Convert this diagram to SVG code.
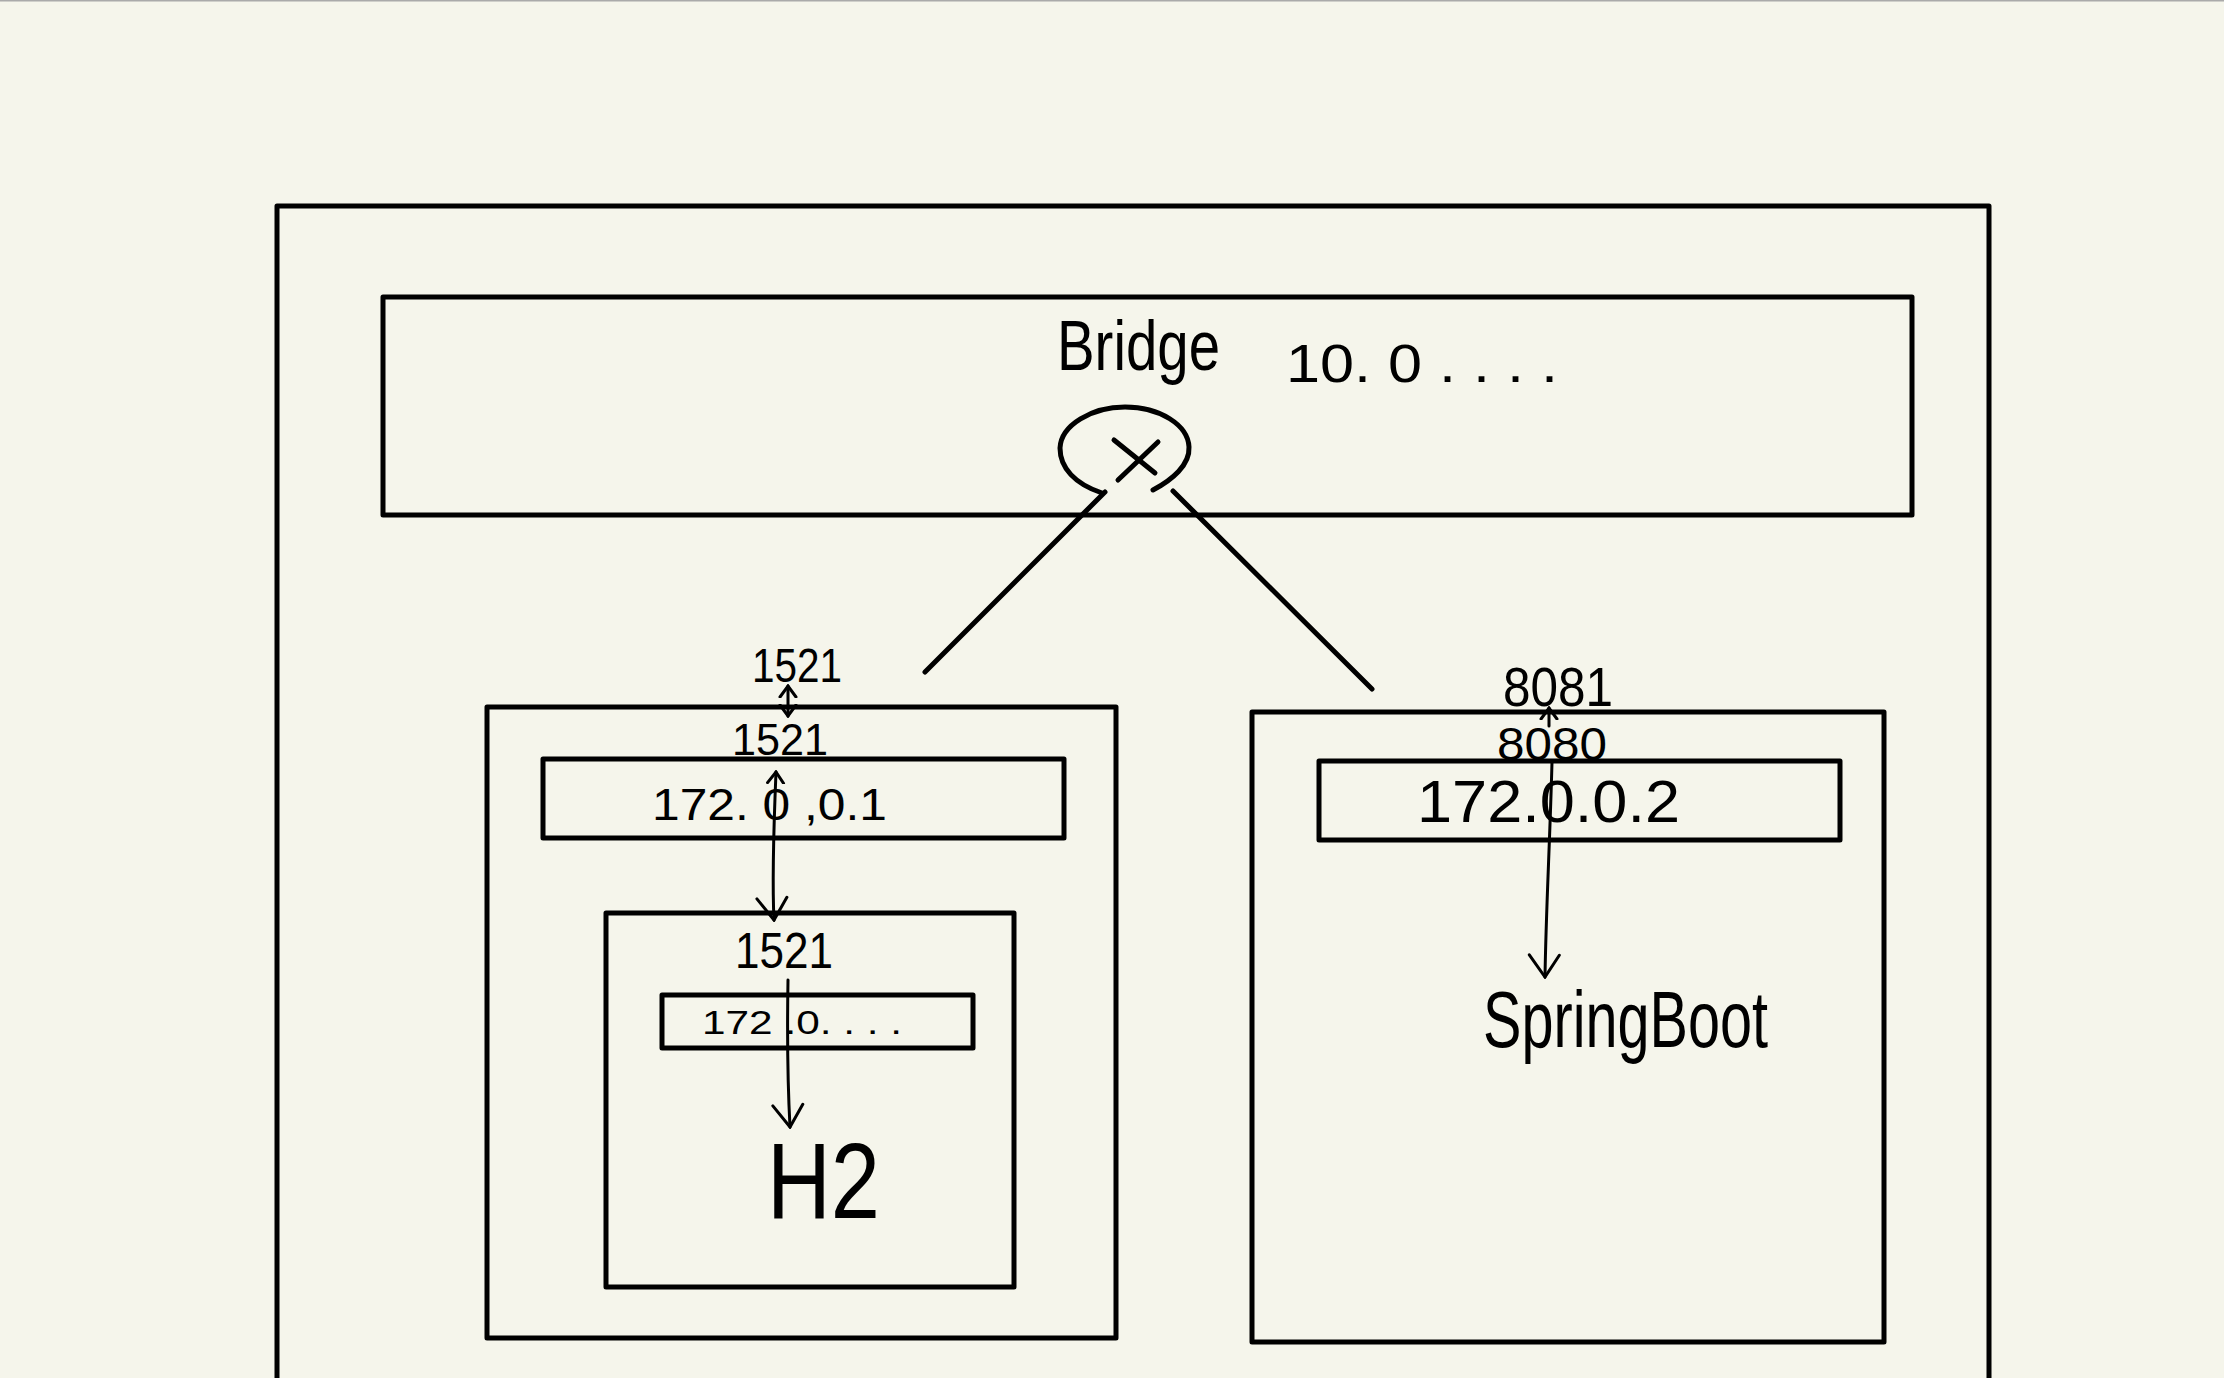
<svg xmlns="http://www.w3.org/2000/svg" width="2224" height="1378" viewBox="0 0 2224 1378">
<style>
.box{fill:none;stroke:#000;stroke-width:5;stroke-linejoin:round}
.conn{fill:none;stroke:#000;stroke-width:5;stroke-linecap:round}
.arr{fill:none;stroke:#000;stroke-width:3;stroke-linecap:round}
.t{font-family:"Liberation Sans",Arial,sans-serif;fill:#000}
</style>
<defs>
<marker id="v" viewBox="-12 -10 14 20" markerWidth="14" markerHeight="20" refX="0" refY="0" orient="auto-start-reverse" markerUnits="userSpaceOnUse">
<path d="M-11,-8 L0,0 L-11,8" fill="none" stroke="#000" stroke-width="3" stroke-linecap="round"/>
</marker>
<marker id="vl" viewBox="-24 -18 26 36" markerWidth="26" markerHeight="36" refX="0" refY="0" orient="auto-start-reverse" markerUnits="userSpaceOnUse">
<path d="M-22,-14 L0,0 L-22,16" fill="none" stroke="#000" stroke-width="3" stroke-linecap="round"/>
</marker>
</defs>
<rect x="0" y="0" width="2224" height="1378" fill="#f5f5eb"/>
<line x1="0" y1="0.5" x2="2224" y2="0.5" stroke="#aaa" stroke-width="2"/>

<g id="host">
<rect class="box" x="277" y="206" width="1712" height="1200"/>
</g>

<g id="bridge">
<rect class="box" x="383" y="297" width="1529" height="218"/>
<text class="t" x="1057" y="370" font-size="70" textLength="163" lengthAdjust="spacingAndGlyphs">Bridge</text>
<text class="t" x="1286" y="382" font-size="54" textLength="272" lengthAdjust="spacingAndGlyphs">10. 0 . . . .</text>
<path class="conn" d="M1102,493 C1075,484 1060,468 1060,448 C1061,425 1092,407 1125,407 C1160,407 1188,425 1189,447 C1190,465 1172,480 1153,490"/>
<line class="conn" x1="1114" y1="440" x2="1155" y2="473"/>
<line class="conn" x1="1158" y1="442" x2="1118" y2="480"/>
</g>

<g id="container-h2">
<rect class="box" x="487" y="707" width="629" height="631"/>
<text class="t" x="752" y="682" font-size="48" textLength="90" lengthAdjust="spacingAndGlyphs">1521</text>
<text class="t" x="732" y="755" font-size="44" textLength="96" lengthAdjust="spacingAndGlyphs">1521</text>
<rect class="box" x="543" y="759" width="521" height="79"/>
<text class="t" x="652" y="820" font-size="44" textLength="235" lengthAdjust="spacingAndGlyphs">172. 0 ,0.1</text>
</g>

<g id="inner-h2">
<rect class="box" x="606" y="913" width="408" height="374"/>
<text class="t" x="735" y="968" font-size="50" textLength="98" lengthAdjust="spacingAndGlyphs">1521</text>
<rect class="box" x="662" y="995" width="311" height="53"/>
<text class="t" x="702" y="1034" font-size="34" textLength="200" lengthAdjust="spacingAndGlyphs">172 .0. . . .</text>
<text class="t" x="767" y="1218" font-size="108" textLength="113" lengthAdjust="spacingAndGlyphs">H2</text>
</g>

<g id="container-springboot">
<rect class="box" x="1252" y="712" width="632" height="630"/>
<text class="t" x="1503" y="706" font-size="56" textLength="110" lengthAdjust="spacingAndGlyphs">8081</text>
<text class="t" x="1497" y="760" font-size="46" textLength="110" lengthAdjust="spacingAndGlyphs">8080</text>
<rect class="box" x="1319" y="761" width="521" height="79"/>
<text class="t" x="1417" y="822" font-size="60" textLength="263" lengthAdjust="spacingAndGlyphs">172.0.0.2</text>
<text class="t" x="1483" y="1047" font-size="80" textLength="285" lengthAdjust="spacingAndGlyphs">SpringBoot</text>
</g>

<g id="connectors">
<line class="conn" x1="1105" y1="492" x2="925" y2="672"/>
<line class="conn" x1="1173" y1="491" x2="1372" y2="689"/>
<path class="arr" d="M788,686 L788,716" marker-start="url(#v)" marker-end="url(#v)"/>
<path class="arr" d="M776,772 C774,820 772,880 774,920" marker-start="url(#v)" marker-end="url(#vl)"/>
<path class="arr" d="M788,980 C787,1040 788,1090 790,1127" marker-end="url(#vl)"/>
<path class="arr" d="M1549,708 L1549,726" marker-start="url(#v)"/>
<path class="arr" d="M1552,762 C1550,840 1546,910 1545,977" marker-end="url(#vl)"/>
</g>
</svg>
